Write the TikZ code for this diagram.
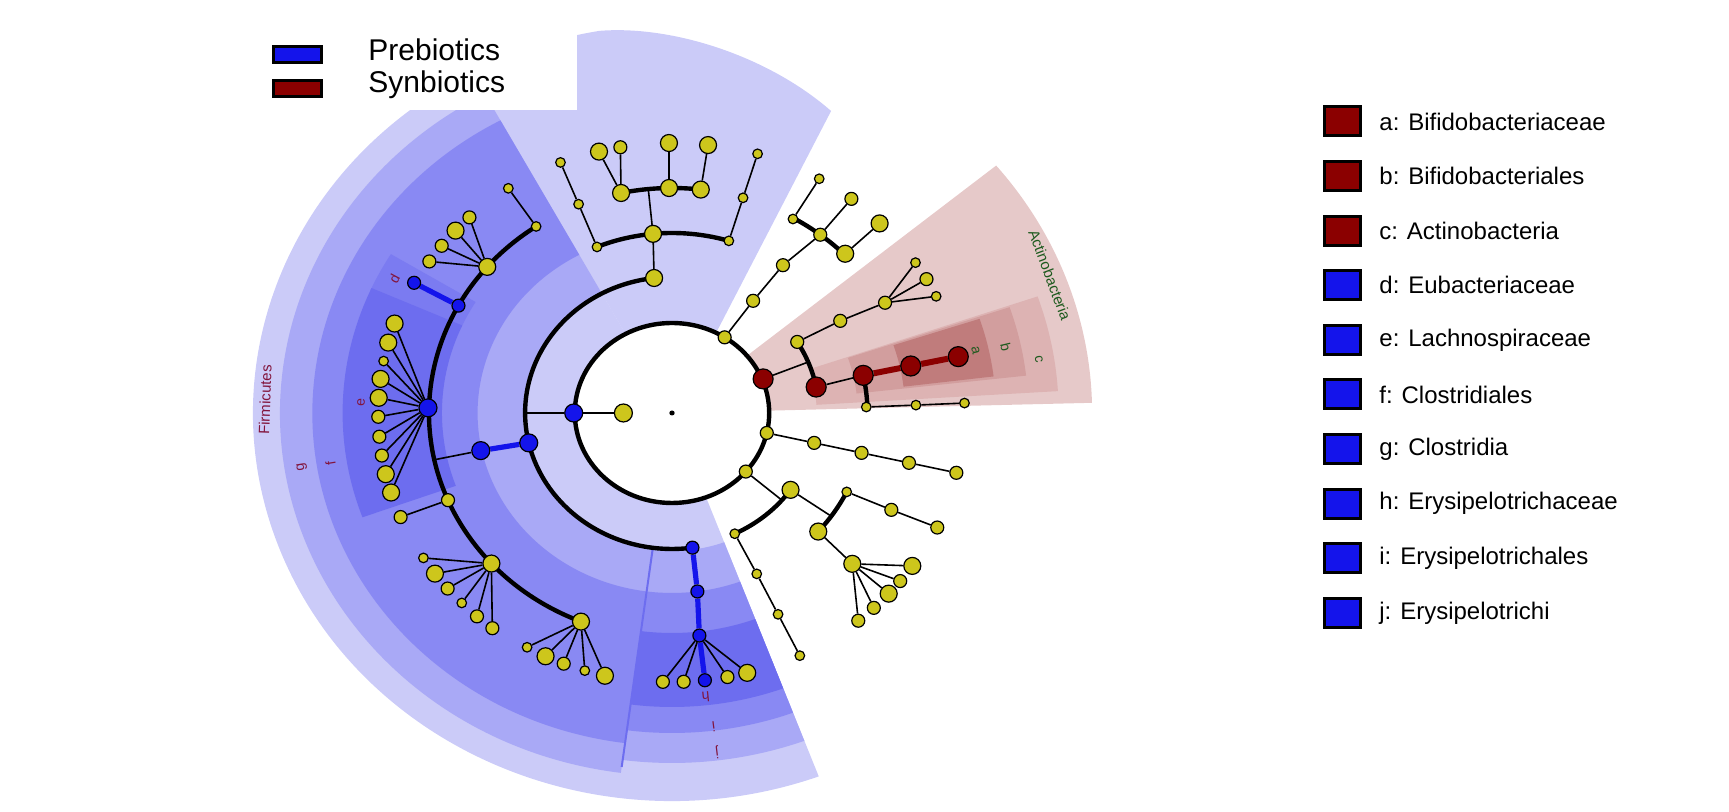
\documentclass[tikz,border=0pt]{standalone}
\usepackage{fontspec}
\setmainfont{Liberation Sans}
\definecolor{ycol}{RGB}{205,198,28}
\definecolor{bcol}{RGB}{20,20,235}
\definecolor{rcol}{RGB}{139,0,0}
\definecolor{labc}{RGB}{130,20,60}
\definecolor{grn}{RGB}{30,90,30}
\definecolor{bl0}{RGB}{203,203,248}
\definecolor{bl1}{RGB}{169,169,246}
\definecolor{bl2}{RGB}{137,137,243}
\definecolor{bl3}{RGB}{123,123,241}
\definecolor{bl4}{RGB}{109,109,239}
\definecolor{rd0}{RGB}{230,201,201}
\definecolor{rd1}{RGB}{221,179,179}
\definecolor{rd2}{RGB}{210,158,158}
\definecolor{rd3}{RGB}{192,124,124}
\newcommand\mysector[5]{\fill[#5] (#1:#3) arc[start angle=#1,end angle=#2,radius=#3] -- (#2:#4) arc[start angle=#2,end angle=#1,radius=#4] -- cycle;}
\pgfdeclarelayer{sect}\pgfdeclarelayer{edges}\pgfsetlayers{sect,edges,main}
\begin{document}
\begin{tikzpicture}[x=0.5pt,y=0.5pt,
 nd/.style={circle,draw=black,line width=0.6pt,inner sep=0pt},
 yb/.style={nd,fill=ycol,minimum size=8.5pt},
 ym/.style={nd,fill=ycol,minimum size=6.5pt},
 ys/.style={nd,fill=ycol,minimum size=4.8pt},
 bn/.style={nd,fill=bcol,minimum size=9pt},
 bs/.style={nd,fill=bcol,minimum size=6.5pt},
 rn/.style={nd,fill=rcol,minimum size=10pt},
 edge/.style={line width=0.8pt},
 arcb/.style={line width=2.2pt},
 bE/.style={bcol,line width=2.6pt},
 rE/.style={rcol,line width=3pt},
 lab/.style={font=\fontsize{7}{8}\selectfont,text=labc,inner sep=0pt}]
\useasboundingbox (0,0) rectangle (1729,812);
\begin{scope}[shift={(672,399)},xscale=1.08]
\begin{pgfonlayer}{sect}
% blue
\mysector{118.5}{290.5}{90}{388}{bl0}
\fill[bl0] (63:90) -- (64:336) .. controls (76:368) and (90:388) .. (100:388) arc[start angle=100,end angle=118.6,radius=388] -- (118.6:90) arc[start angle=118.6,end angle=63,radius=90] -- cycle;
\mysector{118.5}{262.5}{138}{363}{bl1}
\mysector{118.5}{262.5}{180}{333}{bl2}
\mysector{148.6}{156}{213}{305}{bl3}
\mysector{156}{200}{213}{305}{bl4}
\mysector{262.5}{290.5}{138}{350}{bl1}
\mysector{262.5}{290.5}{180}{320}{bl2}
\mysector{262.5}{290.5}{220}{294}{bl4}
\draw[bl4,line width=1pt] (262.5:138) -- (262.5:357);
\draw[bl4,line width=1pt] (156:213) -- (156:305);
% red
\mysector{1.5}{39.5}{92}{389}{rd0}
\mysector{3.5}{19}{134}{358}{rd1}
\mysector{6.5}{18.7}{172}{330}{rd2}
\mysector{7}{18.3}{216}{300}{rd3}
\end{pgfonlayer}
\end{scope}
% legend white box
\fill[white] (235,702) rectangle (577,812);
\begin{scope}[shift={(672,399)},xscale=1.08]
\fill (0,0) circle[radius=2.5];
% ---------- nodes
\node[bn] (P) at (180:91) {};
\node[nd,fill=ycol,minimum size=9pt] (Yin) at (180:45) {};
\coordinate (pA) at (180:136);
% top clade
\node[yb] (T1) at (97:136) {};
\node[yb] (T2) at (95.6:180) {};
\coordinate (T2o) at (95.6:225);
\node[ys] (ta) at (112.7:180) {};
\node[ys] (tb) at (112.5:226) {};
\node[ys] (tc) at (112.4:271) {};
\node[ys] (td) at (73:180) {};
\node[ys] (te) at (73:225) {};
\node[ys] (tf) at (73:271) {};
\node[yb] (t1) at (102.1:225) {};
\node[yb] (t2) at (90.7:225) {};
\node[yb] (t3) at (83.2:225) {};
\node[yb] (t1a) at (104.5:270) {};
\node[ym] (t1b) at (100.2:270) {};
\node[yb] (t2a) at (90.6:270) {};
\node[yb] (t3a) at (82.9:270) {};
% Firmicutes
\node[bn] (G) at (192.7:136) {};
\node[bn] (F) at (192:181) {};
\coordinate (Fo) at (192:225);
\node[ys] (fa) at (124:225) {};
\node[ys] (fa1) at (124:271) {};
\node[yb] (fb) at (139.5:225) {};
\foreach \a/\s [count=\i] in {133.8/ym,137.7/yb,141.9/ym,146/ym}
  \node[\s] (fb\i) at (\a:271) {};
\node[bs] (D) at (151.5:225) {};
\node[bs] (Dd) at (151.4:272) {};
\node[bn] (E) at (178.7:226) {};
\foreach \a/\s [count=\i] in {160.8/yb,165/yb,169/ys,172.8/yb,176.8/yb,180.8/ym,185/ym,189/ym,193/yb,197/yb}
  \node[\s] (e\i) at (\a:272) {};
\node[ym] (fc) at (202.8:225) {};
\node[ym] (fc1) at (202.5:272) {};
\node[yb] (fd) at (222:225) {};
\foreach \a/\s [count=\i] in {212.2/ys,216.2/yb,220.2/ym,224.3/ys,228.4/ym,232.3/ym}
  \node[\s] (fd\i) at (\a:272) {};
\node[yb] (fe) at (248:225) {};
\foreach \a/\s [count=\i] in {240.2/ys,244.3/yb,248.2/ym,252.6/ys,256.7/yb}
  \node[\s] (fe\i) at (\a:270) {};
% Erysipelotrichi
\node[bs] (J) at (278:136) {};
\node[bs] (I) at (277.5:180) {};
\node[bs] (H) at (276.5:224) {};
\node[bs] (Hh) at (276.5:269) {};
\foreach \a/\s [count=\i] in {268.2/ym,272.3/ym,281/ym,285/yb}
  \node[\s] (h\i) at (\a:269) {};
% Actinobacteria
\node[rn] (R0) at (22:91) {};
\coordinate (R0o) at (22:136);
\node[ym] (ra) at (31.5:136) {};
\node[ym] (rb) at (30.6:181) {};
\node[ym] (rc) at (29.2:226) {};
\foreach \a/\s [count=\i] in {33.7/ys,29.6/ym,25.5/ys}
  \node[\s] (rc\i) at (\a:271) {};
\node[rn] (R1) at (11:136) {};
\node[rn] (R2) at (12:181) {};
\node[rn] (R3) at (12:226) {};
\node[rn] (R4) at (12:271) {};
\node[ys] (rd) at (1.9:180) {};
\node[ys] (rd1) at (2:226) {};
\node[ys] (rd2) at (2.1:271) {};
% clade A
\node[ym] (A0) at (57.2:90) {};
\node[ym] (A1) at (56.2:135) {};
\node[ym] (A2) at (55.2:180) {};
\node[ym] (A3) at (52.4:225) {};
\node[ys] (a4) at (60:224) {};
\node[yb] (a5) at (44.8:226) {};
\node[ys] (a4l) at (59.8:271) {};
\node[ym] (A3l) at (52.2:271) {};
\node[yb] (a5l) at (44.6:270) {};
% clade B
\foreach \r [count=\i] in {90,135,180,225,270}
  \node[ym] (B\i) at (-12.8:\r) {};
% clade C
\node[ym] (C0) at (-40.6:90) {};
\coordinate (C0o) at (-40.6:134);
\node[yb] (c1) at (-35:134) {};
\node[ys] (c2) at (-64.3:134) {};
\coordinate (c1o) at (-35:180);
\node[ys] (c3) at (-26:180) {};
\node[yb] (c4) at (-41.2:180) {};
\node[ym] (c3a) at (-25.5:225) {};
\node[ym] (c3b) at (-25:271) {};
\node[yb] (ch) at (-42.1:225) {};
\foreach \a/\s [count=\i] in {-34.5/yb,-38.5/ym,-42/yb,-46.2/ym,-50.3/ym}
  \node[\s] (ch\i) at (\a:270) {};
\node[ys] (c2a) at (-64:179) {};
\node[ys] (c2b) at (-64:224) {};
\node[ys] (c2c) at (-64:270) {};
% ---------- edges
\begin{pgfonlayer}{edges}
\draw[arcb] (0,0) circle[radius=90];
\draw[edge] (P) -- (Yin);
\draw[edge] (P) -- (pA);
\draw[arcb] (97:136) arc[start angle=97,end angle=278,radius=136];
\draw[edge] (T1) -- (T2);
\draw[arcb] (73:180) arc[start angle=73,end angle=112.7,radius=180];
\draw[edge] (ta) -- (tb) -- (tc);
\draw[edge] (td) -- (te) -- (tf);
\draw[edge] (T2) -- (T2o);
\draw[arcb] (83.2:225) arc[start angle=83.2,end angle=102.1,radius=225];
\draw[edge] (t1) -- (t1a) (t1) -- (t1b) (t2) -- (t2a) (t3) -- (t3a);
\draw[bE] (G) -- (F);
\draw[edge] (F) -- (Fo);
\draw[arcb] (124:225) arc[start angle=124,end angle=248,radius=225];
\draw[edge] (fa) -- (fa1);
\foreach \i in {1,...,4} \draw[edge] (fb) -- (fb\i);
\draw[bE] (D) -- (Dd);
\foreach \i in {1,...,10} \draw[edge] (E) -- (e\i);
\draw[edge] (fc) -- (fc1);
\foreach \i in {1,...,6} \draw[edge] (fd) -- (fd\i);
\foreach \i in {1,...,5} \draw[edge] (fe) -- (fe\i);
\draw[bE] (J) -- (I) -- (H) -- (Hh);
\foreach \i in {1,...,4} \draw[edge] (H) -- (h\i);
\draw[edge] (R0) -- (R0o);
\draw[arcb] (11:136) arc[start angle=11,end angle=31.5,radius=136];
\draw[edge] (ra) -- (rb) -- (rc);
\foreach \i in {1,...,3} \draw[edge] (rc) -- (rc\i);
\draw[edge] (R1) -- (R2);
\draw[arcb] (1.9:181) arc[start angle=1.9,end angle=12,radius=181];
\draw[rE] (R2) -- (R3) -- (R4);
\draw[edge] (rd) -- (rd1) -- (rd2);
\draw[edge] (A0) -- (A1) -- (A2) -- (A3);
\draw[arcb] (44.8:225) arc[start angle=44.8,end angle=60,radius=225];
\draw[edge] (a4) -- (a4l) (A3) -- (A3l) (a5) -- (a5l);
\draw[edge] (B1) -- (B2) -- (B3) -- (B4) -- (B5);
\draw[edge] (C0) -- (C0o);
\draw[arcb] (-64.3:134) arc[start angle=-64.3,end angle=-35,radius=134];
\draw[edge] (c1) -- (c1o);
\draw[arcb] (-41.2:180) arc[start angle=-41.2,end angle=-26,radius=180];
\draw[edge] (c3) -- (c3a) -- (c3b);
\draw[edge] (c4) -- (ch);
\foreach \i in {1,...,5} \draw[edge] (ch) -- (ch\i);
\draw[edge] (c2) -- (c2a) -- (c2b) -- (c2c);
\end{pgfonlayer}
% ---------- labels
\node[lab,rotate=62] (ld) at (152.5:290) {d};
\node[lab,rotate=88] (le) at (178:288) {e};
\node[lab,rotate=99] (lf) at (189:320) {f};
\node[lab,rotate=99] (lg) at (189:347) {g};
\node[lab,rotate=88,font=\fontsize{7.5}{8}\selectfont] (lfirm) at (178:377) {Firmicutes};
\node[lab,rotate=186] (lh) at (276.3:286) {h};
\node[lab,rotate=187] (li) at (277:316) {i};
\node[lab,rotate=187] (lj) at (277:342) {j};
\node[lab,text=grn,rotate=-69.5,font=\fontsize{7.5}{8}\selectfont] (lact) at (21.5:376) {Actinobacteria};
\node[lab,text=grn,rotate=-80] (lc) at (9:344) {c};
\node[lab,text=grn,rotate=-77] (lb) at (12:316) {b};
\node[lab,text=grn,rotate=-77] (la) at (12.5:288) {a};
\end{scope}
% ---------- legends
\tikzset{lgbox/.style={draw=black,line width=1.5pt,minimum width=24pt,minimum height=8pt,inner sep=0pt},
 rbox/.style={draw=black,line width=1.5pt,minimum width=18pt,minimum height=14.5pt,inner sep=0pt}}
\node[lgbox,fill=bcol] (lp) at (297,757) {};
\node[lgbox,fill=rcol] (ls) at (297,723) {};
\node[anchor=west,font=\fontsize{15}{16}\selectfont,inner sep=0pt] (tp) at (368,762) {Prebiotics};
\node[anchor=west,font=\fontsize{15}{16}\selectfont,inner sep=0pt] (ts) at (368,727) {Synbiotics};
\foreach \t/\c [count=\i from 0] in {a: Bifidobacteriaceae/rcol,b: Bifidobacteriales/rcol,c: Actinobacteria/rcol,d: Eubacteriaceae/bcol,e: Lachnospiraceae/bcol,f: Clostridiales/bcol,g: Clostridia/bcol,h: Erysipelotrichaceae/bcol,i: Erysipelotrichales/bcol,j: Erysipelotrichi/bcol}{
  \node[rbox,fill=\c] (rb\i) at (1342,{812-121.5-54.6*\i}) {};
  \node[anchor=west,font=\fontsize{12}{13}\selectfont,inner sep=0pt] (rt\i) at (1379,{812-121.5-54.6*\i}) {\t};
}
\end{tikzpicture}
\end{document}
